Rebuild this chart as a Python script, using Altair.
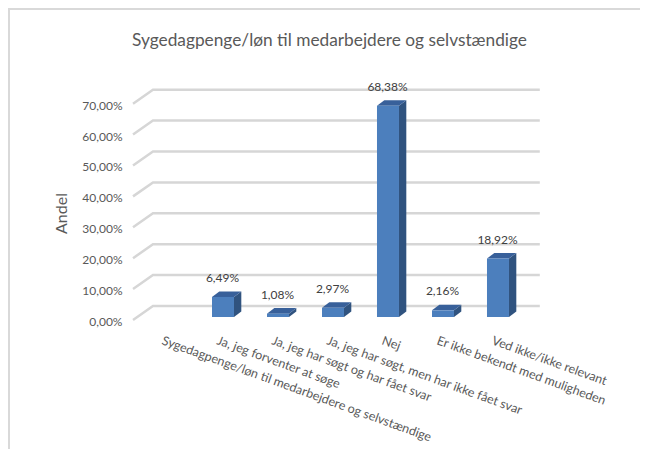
import altair as alt
import pandas as pd

TITLE = "Sygedagpenge/løn  til medarbejdere  og selvstændige"
categories = [
    "Sygedagpenge/løn til medarbejdere og selvstændige",
    "Ja, jeg forventer at søge",
    "Ja, jeg har søgt og har fået svar",
    "Ja, jeg har søgt, men har ikke fået svar",
    "Nej",
    "Er ikke bekendt med muligheden",
    "Ved ikke/ikke relevant",
]
values = [None, 6.49, 1.08, 2.97, 68.38, 2.16, 18.92]
ticks = [0, 10, 20, 30, 40, 50, 60, 70]

# pseudo-3D geometry, in axis units
HALF = 0.2
DX = 0.133
DY = 1.8
WALL_DY = 3.56
FLOOR_DY = -0.97
X_FRONT, X_BACK, X_END = -0.636, -0.273, 6.76

idx = [(i, v) for i, v in enumerate(values) if v is not None]
bars = pd.DataFrame(
    [dict(c=i, x0=i - HALF, x1=i + HALF, v=v, z=0, label=f"{v:.2f}%".replace(".", ",")) for i, v in idx]
)
side = pd.DataFrame(
    [r for i, v in idx for r in (
        dict(c=i, x=i + HALF, top=v, bot=0),
        dict(c=i, x=i + HALF + DX, top=v + DY, bot=DY),
    )]
)
top = pd.DataFrame(
    [r for i, v in idx for r in (
        dict(c=i, x=i - HALF, top=v, bot=v),
        dict(c=i, x=i - HALF + DX, top=v + DY, bot=v),
        dict(c=i, x=i + HALF, top=v + DY, bot=v),
        dict(c=i, x=i + HALF + DX, top=v + DY, bot=v + DY),
    )]
)
grid = pd.DataFrame(
    [r for t in ticks for r in (
        dict(t=t, x=X_FRONT, y=t + FLOOR_DY),
        dict(t=t, x=X_BACK, y=t + WALL_DY),
        dict(t=t, x=X_END, y=t + WALL_DY),
    )]
)

x_scale = alt.Scale(domain=[-2.909, 8.582], nice=False, zero=False)
y_scale = alt.Scale(domain=[-42.72, 100], nice=False, zero=False)
label_lookup = "[" + ",".join("'" + c + "'" for c in categories) + "][datum.value]"
FONT = "Lato"
TXT = "#595959"

x_axis = alt.Axis(
    values=list(range(len(categories))), labelExpr=label_lookup, title=None, domain=False, ticks=False,
    grid=False, labelAngle=20, labelAlign="left", labelBaseline="top", labelOffset=-4, labelPadding=0,
    labelOverlap=False, labelBound=False, labelFlush=False, labelFont=FONT, labelFontSize=12.5,
    labelColor=TXT, offset=-115, labelLimit=400,
)
y_axis = alt.Axis(
    values=ticks, labelExpr="replace(format(datum.value,'.2f'),'.',',')+'%'", title="Andel", domain=False,
    ticks=False, grid=False, labelPadding=0, labelOffset=4.5, labelFont=FONT, labelFontSize=12, labelColor=TXT,
    offset=-114, titleFont=FONT, titleFontSize=16, titleFontWeight="normal", titleColor=TXT, titlePadding=12,
    titleY=205, labelFlush=False, labelBound=False,
)

frame_left = alt.Chart(bars).mark_rule(color="#d9d9d9", strokeWidth=2).encode(
    x=alt.value(1), y=alt.value(0), y2=alt.value(441)
)
frame_top = alt.Chart(bars).mark_rule(color="#d9d9d9", strokeWidth=2).encode(
    y=alt.value(1), x=alt.value(0), x2=alt.value(632)
)
grid_layer = alt.Chart(grid).mark_line(color="#d6d6d6", strokeWidth=2.5).encode(
    x=alt.X("x:Q", scale=x_scale, axis=x_axis),
    y=alt.Y("y:Q", scale=y_scale, axis=y_axis),
    detail="t:N",
)
side_layer = alt.Chart(side).mark_area(color="#30537f").encode(
    x=alt.X("x:Q", scale=x_scale, axis=x_axis),
    y=alt.Y("top:Q", scale=y_scale, axis=y_axis),
    y2="bot:Q",
    detail="c:N",
)
top_layer = alt.Chart(top).mark_area(color="#38609a").encode(
    x=alt.X("x:Q", scale=x_scale, axis=x_axis),
    y=alt.Y("top:Q", scale=y_scale, axis=y_axis),
    y2="bot:Q",
    detail="c:N",
)
front_layer = alt.Chart(bars).mark_rect(color="#4c7fbd").encode(
    x=alt.X("x0:Q", scale=x_scale, axis=x_axis),
    x2="x1:Q",
    y=alt.Y("v:Q", scale=y_scale, axis=y_axis),
    y2="z:Q",
)
text_layer = alt.Chart(bars).mark_text(
    font=FONT, fontSize=12, color="#404040", baseline="middle", dy=-19, dx=-0.5
).encode(
    x=alt.X("c:Q", scale=x_scale, axis=x_axis),
    y=alt.Y("v:Q", scale=y_scale, axis=y_axis),
    text="label:N",
)

chart = alt.layer(frame_left, frame_top, grid_layer, side_layer, top_layer, front_layer, text_layer).properties(
    width=632, height=441, padding=0, autosize="none",
    title=alt.TitleParams(
        TITLE, font=FONT, fontSize=17.3, fontWeight="normal", color=TXT, anchor="middle", frame="group",
        offset=-42, dx=5.5,
    ),
).configure_view(stroke=None)

chart.save("out.html", embed_options={"renderer": "svg", "actions": False})
